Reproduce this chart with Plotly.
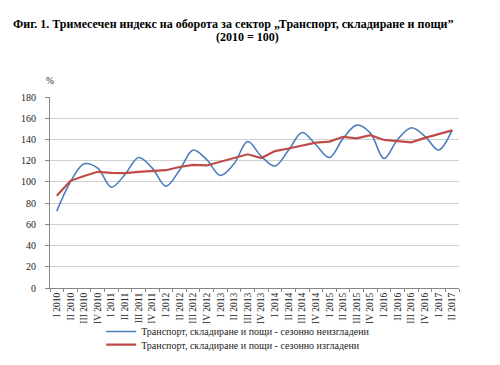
import plotly.graph_objects as go

quarters = ["I 2010", "II 2010", "III 2010", "IV 2010",
            "I 2011", "II 2011", "III 2011", "IV 2011",
            "I 2012", "II 2012", "III 2012", "IV 2012",
            "I 2013", "II 2013", "III 2013", "IV 2013",
            "I 2014", "II 2014", "III 2014", "IV 2014",
            "I 2015", "II 2015", "III 2015", "IV 2015",
            "I 2016", "II 2016", "III 2016", "IV 2016",
            "I 2017", "II 2017"]

unadjusted = [72.5, 100, 117, 113, 95, 107, 123, 113, 96, 111,
              130, 121, 106, 117, 138, 124, 115, 130, 146.5, 135,
              123, 141, 153.5, 146, 122, 140, 151, 143, 130, 149]

adjusted = [87, 101, 105.5, 109.5, 108.5, 108.3, 109.5, 110.5, 111, 114,
            116, 115.5, 119, 122, 126, 122.5, 129, 131.5, 134, 137,
            138, 142.5, 141, 144, 139.5, 138.5, 137.3, 141.5, 145, 148.5]

name_unadj = "Транспорт, складиране и пощи - сезонно неизгладени"
name_adj = "Транспорт, складиране и пощи - сезонно изгладени"

y_ticks = [0, 20, 40, 60, 80, 100, 120, 140, 160, 180]

serif = "Liberation Serif, Times New Roman, serif"

fig = go.Figure()
fig.add_trace(go.Scatter(
    x=quarters, y=unadjusted, mode="lines", name=name_unadj,
    line=dict(color="#4A7EBB", width=1.6, shape="spline", smoothing=1.0),
    legend="legend"))
fig.add_trace(go.Scatter(
    x=quarters, y=adjusted, mode="lines", name=name_adj,
    line=dict(color="#BE4B48", width=2.2),
    legend="legend2"))

fig.update_layout(
    width=500, height=365,
    margin=dict(l=42, r=49, t=89, b=85, autoexpand=False),
    paper_bgcolor="white", plot_bgcolor="white",
    font=dict(family=serif, size=9, color="#222222"),
    showlegend=True,
    legend=dict(x=0.125, xanchor="left", y=-0.152, yanchor="top",
                font=dict(family=serif, size=10, color="#222222"),
                bgcolor="rgba(0,0,0,0)", itemwidth=30),
    legend2=dict(x=0.125, xanchor="left", y=-0.221, yanchor="top",
                 font=dict(family=serif, size=10, color="#222222"),
                 bgcolor="rgba(0,0,0,0)", itemwidth=30),
    annotations=[
        dict(text="<b>Фиг. 1. Тримесечен индекс на оборота за сектор „Транспорт, складиране и пощи”</b>",
             xref="paper", yref="paper", x=0.5, y=1, xanchor="center", yanchor="middle",
             showarrow=False, font=dict(family=serif, size=12, color="#000000")),
        dict(text="<b>(2010 = 100)</b>",
             xref="paper", yref="paper", x=0.5, y=1, xanchor="center", yanchor="middle",
             showarrow=False, font=dict(family=serif, size=12, color="#000000")),
        dict(text="%", xref="paper", yref="paper", x=0, y=1, xanchor="center", yanchor="middle",
             showarrow=False, font=dict(family=serif, size=9.5, color="#222222")),
    ],
)

plot_h = 365 - 89 - 85
plot_w = 500 - 42 - 49
def py(pix):
    return (365 - 85 - pix) / plot_h
def px(pix):
    return (pix - 42) / plot_w

fig.layout.annotations[0].update(x=px(225), y=py(16))
fig.layout.annotations[1].update(x=px(239), y=py(29.5))
fig.layout.annotations[2].update(x=px(42), y=py(73))

fig.update_xaxes(
    type="category", range=[-0.5, len(quarters) - 0.5],
    tickangle=-90, tickson="boundaries", ticks="outside", ticklen=3,
    tickcolor="#868686", showline=True, linecolor="#868686", linewidth=1,
    showgrid=False, tickfont=dict(family=serif, size=9.5, color="#222222"),
    automargin=False)
fig.update_yaxes(
    range=[0, 180], tickvals=y_ticks, ticks="outside", ticklen=4,
    tickcolor="#868686", showline=True, linecolor="#868686", linewidth=1,
    showgrid=True, gridcolor="#D0D0D0", gridwidth=1, zeroline=False,
    ticklabelstandoff=7,
    tickfont=dict(family=serif, size=10, color="#222222"), automargin=False)

fig.write_html("out.html")
